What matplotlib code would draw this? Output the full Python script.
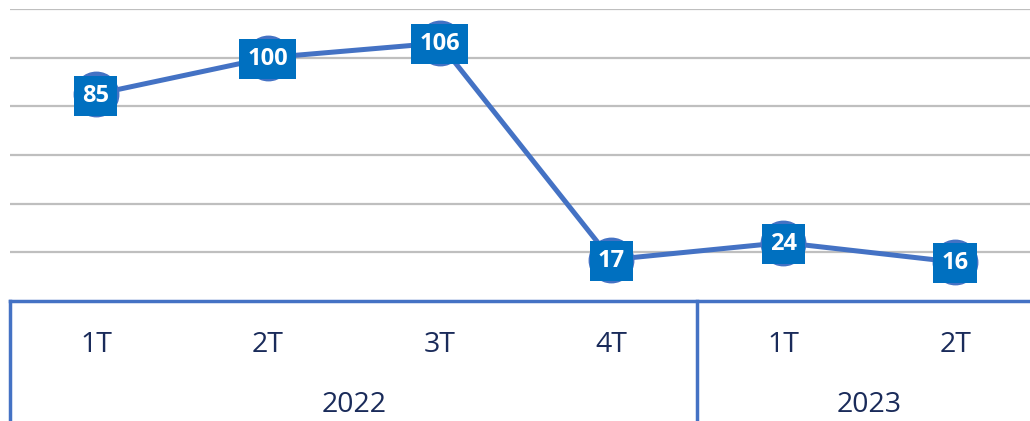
import matplotlib
matplotlib.use('Agg')
from matplotlib import pyplot as plt
from matplotlib import transforms

quarters = ['1T', '2T', '3T', '4T', '1T', '2T']
years = ['2022', '2023']
year_spans = [(0, 3), (4, 5)]
values = [85, 100, 106, 17, 24, 16]

LINE = '#4472C4'
BOX = '#0070C0'
TXT = '#1A2B5A'


def main():
    plt.rcParams['font.family'] = ['Open Sans', 'DejaVu Sans']
    fig = plt.figure(figsize=(10.3, 4.21), dpi=100)
    ax = fig.add_axes([10 / 1030, 120 / 421, 1020 / 1030, 292 / 421])

    x = list(range(len(values)))
    ax.plot(x, values, color=LINE, lw=3.6, marker='o', markersize=32,
            markerfacecolor=LINE, markeredgecolor=LINE, zorder=3)
    for xi, v in zip(x, values):
        ax.annotate(str(v), (xi, v), xytext=(0, -1), textcoords='offset points',
                    ha='center', va='center', color='white',
                    fontsize=17, fontweight='bold', zorder=4,
                    bbox=dict(boxstyle='square,pad=0.34', fc=BOX, ec='none'))

    ax.set_xlim(-0.5, (1030 - 95) / 172)
    ax.set_ylim(0, 120)
    for g in range(20, 121, 20):
        ax.axhline(g, color='#BFBFBF', lw=1.6, zorder=1)
    for s in ax.spines.values():
        s.set_visible(False)
    ax.set_xticks([])
    ax.set_yticks([])

    trans = transforms.blended_transform_factory(ax.transData, ax.transAxes)
    ax.plot([-0.5, 6], [0, 0], transform=trans, color=LINE, lw=2.5, clip_on=False)
    for sep in [-0.5, 3.5]:
        ax.plot([sep, sep], [0, -0.45], transform=trans, color=LINE, lw=2.5,
                clip_on=False)

    for xi, q in zip(x, quarters):
        ax.text(xi, -0.151, q, transform=trans, ha='center', va='center',
                fontsize=20.5, color=TXT)
    for (a, b), yr in zip(year_spans, years):
        ax.text((a + b) / 2, -0.356, yr, transform=trans, ha='center',
                va='center', fontsize=20.5, color=TXT)

    fig.savefig('out.png', dpi=100)


if __name__ == '__main__':
    main()
